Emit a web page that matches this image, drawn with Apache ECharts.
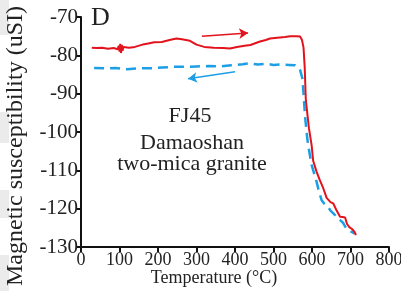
<!DOCTYPE html>
<html>
<head>
<meta charset="utf-8">
<script src="https://cdn.jsdelivr.net/npm/echarts@6/dist/echarts.min.js"></script>
<style>
  html, body { margin: 0; padding: 0; background: #fff; }
  #chart { width: 401px; height: 291px; }
</style>
</head>
<body>
<div id="chart"></div>
<script>
// axis ticks
var xTicks = [0, 100, 200, 300, 400, 500, 600, 700, 800];
var yTicks = [-130, -120, -110, -100, -90, -80, -70];

// heating curve [temperature, susceptibility]
var heating = [
  [28, -78.0], [40, -78.1], [55, -78.0], [70, -78.3], [85, -78.1], [95, -78.4],
  [98, -77.5], [100, -79.0], [102, -77.0], [104, -79.4], [106, -77.3], [108, -78.8],
  [110, -77.8], [115, -78.3], [125, -78.0], [140, -77.8], [160, -77.2], [175, -76.9],
  [190, -76.6], [210, -76.5], [230, -76.0], [248, -75.6], [262, -75.8], [283, -76.2],
  [300, -77.2], [320, -77.8], [345, -78.0], [370, -78.1], [387, -78.2], [405, -77.8],
  [425, -77.5], [440, -77.3], [465, -76.4], [480, -76.0], [491, -75.6], [510, -75.4],
  [530, -75.2], [543, -75.0], [560, -75.0], [569, -75.1], [574, -76.0], [578, -78.0],
  [581, -83.0], [584, -91.7], [592, -99.0], [599, -103.4], [603, -107.5], [612, -110.4],
  [620, -112.5], [629, -114.6], [638, -117.2], [648, -118.3], [655, -118.6], [664, -120.5],
  [673, -122.1], [680, -122.2], [686, -122.3], [691, -124.0], [697, -124.8], [704, -125.3],
  [711, -126.1], [714, -126.9]
];

// cooling curve [temperature, susceptibility]
var cooling = [
  [34, -83.3], [60, -83.4], [90, -83.3], [120, -83.6], [150, -83.4], [180, -83.4],
  [210, -83.2], [240, -83.0], [270, -83.0], [300, -82.9], [330, -82.8], [360, -82.9],
  [390, -82.6], [420, -82.3], [439, -82.1], [460, -82.4], [480, -82.2], [500, -82.5],
  [517, -82.4], [540, -82.5], [556, -82.6], [565, -83.2], [569, -83.8], [575, -86.0],
  [578, -90.0], [582, -96.0], [587, -101.0], [590, -103.4], [599, -108.6], [606, -111.0],
  [612, -113.0], [618, -115.5], [625, -117.8], [632, -118.7], [638, -119.1], [648, -120.5],
  [660, -121.7], [667, -122.6], [673, -123.0], [680, -123.6], [688, -125.0], [694, -125.6],
  [702, -126.0], [711, -126.5]
];

// direction arrows [from, to]
var heatArrow = [[314, -75.0], [434, -74.2]];
var coolArrow = [[400, -84.3], [278, -86.1]];

var serif = "'Liberation Serif', 'Times New Roman', serif";
var red = '#e3131d';
var blue = '#1c9fe4';

var myChart = echarts.init(document.getElementById('chart'));
myChart.setOption({
  animation: false,
  grid: { left: 81, right: 12, top: 17, bottom: 44, containLabel: false, outerBoundsMode: 'none' },
  xAxis: {
    type: 'value',
    min: xTicks[0],
    max: xTicks[xTicks.length - 1],
    interval: 100,
    name: 'Temperature (°C)',
    nameLocation: 'middle',
    nameGap: 22,
    nameMoveOverlap: false,
    nameTextStyle: { fontFamily: serif, fontSize: 18, color: '#222', padding: [0, 42, 0, 0] },
    axisLine: { lineStyle: { color: '#111', width: 2 } },
    axisTick: { length: 5, lineStyle: { color: '#111', width: 2 } },
    axisLabel: { fontFamily: serif, fontSize: 18, color: '#222', margin: 4 },
    splitLine: { show: false }
  },
  yAxis: {
    type: 'value',
    min: yTicks[0],
    max: yTicks[yTicks.length - 1],
    interval: 10,
    name: 'Magnetic susceptibility (uSI)',
    nameLocation: 'middle',
    nameGap: 53,
    nameMoveOverlap: false,
    nameTextStyle: { fontFamily: serif, fontSize: 24, color: '#222', padding: [0, 28, 0, 0] },
    axisLine: { lineStyle: { color: '#111', width: 2 } },
    axisTick: { length: 5, lineStyle: { color: '#111', width: 2 } },
    axisLabel: { fontFamily: serif, fontSize: 21, color: '#222', margin: 3 },
    splitLine: { show: false }
  },
  graphic: [
    // grey strips at the left border of the scan
    { type: 'rect', z: -10, shape: { x: 0, y: 0, width: 9, height: 35 }, style: { fill: '#ebebeb' } },
    { type: 'rect', z: -10, shape: { x: 0, y: 112, width: 9, height: 31 }, style: { fill: '#ebebeb' } },
    { type: 'rect', z: -10, shape: { x: 0, y: 190, width: 9, height: 28 }, style: { fill: '#ebebeb' } },
    { type: 'rect', z: -10, shape: { x: 0, y: 255, width: 9, height: 36 }, style: { fill: '#ebebeb' } },
    { type: 'text', left: 91, top: 5, style: { text: 'D', font: '26px ' + serif, fill: '#222' } },
    { type: 'text', x: 190, y: 116, style: { text: 'FJ45', font: '22px ' + serif, fill: '#222', align: 'center', verticalAlign: 'middle' } },
    { type: 'text', x: 192, y: 143, style: { text: 'Damaoshan', font: '22px ' + serif, fill: '#222', align: 'center', verticalAlign: 'middle' } },
    { type: 'text', x: 192, y: 164, style: { text: 'two-mica granite', font: '22px ' + serif, fill: '#222', align: 'center', verticalAlign: 'middle' } }
  ],
  series: [
    {
      name: 'cooling',
      type: 'line',
      data: cooling,
      symbol: 'none',
      lineStyle: { color: blue, width: 2.5, type: [10, 6] },
      markLine: {
        silent: true,
        symbol: ['none', 'arrow'],
        symbolSize: [8, 9],
        label: { show: false },
        lineStyle: { color: blue, width: 1.5, type: 'solid' },
        data: [[{ coord: coolArrow[0] }, { coord: coolArrow[1] }]]
      }
    },
    {
      name: 'heating',
      type: 'line',
      data: heating,
      symbol: 'none',
      lineStyle: { color: red, width: 2 },
      markLine: {
        silent: true,
        symbol: ['none', 'arrow'],
        symbolSize: [8, 9],
        label: { show: false },
        lineStyle: { color: red, width: 1.5, type: 'solid' },
        data: [[{ coord: heatArrow[0] }, { coord: heatArrow[1] }]]
      }
    }
  ]
});
</script>
</body>
</html>
